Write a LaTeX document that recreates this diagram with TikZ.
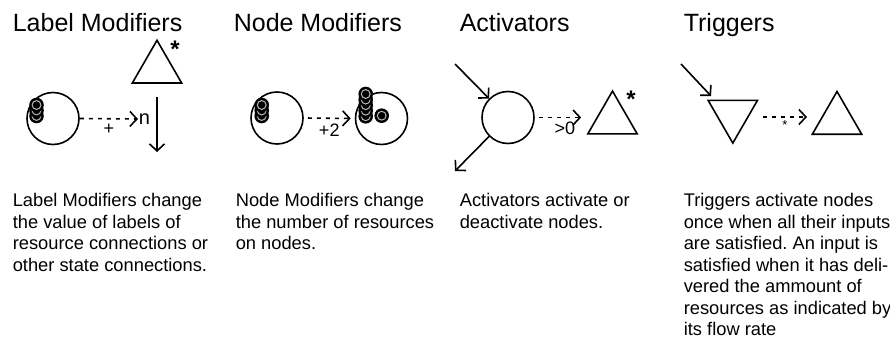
\documentclass[tikz,border=0pt]{standalone}
\usepackage{fontspec}
\setmainfont{Liberation Sans}
\usetikzlibrary{arrows.meta,shapes.geometric}

\begin{document}
\frenchspacing
\begin{tikzpicture}[x=1pt,y=-1pt,line width=1.6pt,
  >={Straight Barb[length=7pt,width=15pt]},
  title/.style={anchor=base west,inner sep=0pt,font=\fontsize{25}{30}\selectfont},
  blurb/.style={anchor=north west,inner sep=0pt,align=left,font=\fontsize{18.3}{21.5}\selectfont},
  tag/.style={inner sep=0pt,font=\fontsize{18}{20}\selectfont},
  pool/.style={circle,draw,minimum size=52pt,inner sep=0pt},
  gate/.style={regular polygon,regular polygon sides=3,draw,minimum size=57pt,inner sep=0pt},
  star/.style={inner sep=0pt,font=\fontsize{24}{24}\selectfont\bfseries},
  state/.style={->,dash pattern=on 4pt off 5pt}]
\useasboundingbox (0,0) rectangle (890,342);
\newcommand{\token}[2]{%
  \fill (#1,#2) circle (7.3);
  \draw[gray!55,line width=1pt] (#1,#2) circle (4.4);}

% headings
\node[title] (h1) at (12,32) {Label Modifiers};
\node[title] (h2) at (233,32) {Node Modifiers};
\node[title] (h3) at (459,32) {Activators};
\node[title] (h4) at (683,32) {Triggers};

% label modifiers
\node[pool] (lpool) at (53,118.5) {};
\foreach \y in {116,110.5,105} {\token{36.5}{\y}}
\node[tag,font=\fontsize{20}{20}\selectfont,anchor=west] (lval) at (138,119) {n};
\draw[state] (lpool.east) -- (lval.west) node[tag,midway,below=5pt] {+};
\node[gate] (lgate) at (157,68.8) {};
\node[star] (lstar) at (175,49) {*};
\coordinate (ltop) at (157,97);
\coordinate (lbot) at (157,152);
\draw[->] (ltop) -- (lbot);

% node modifiers
\node[pool] (npoolA) at (277,118) {};
\foreach \y in {116,110.5,105} {\token{261.7}{\y}}
\node[pool] (npoolB) at (381.5,118.5) {};
\foreach \y in {116.3,110.7,105.2,99.6,94} {\token{365.7}{\y}}
\token{381.7}{115.7}
\draw[state,shorten <=4pt,shorten >=4pt] (npoolA.east) -- (npoolB.west)
  node[tag,midway,below=5pt] {+2};

% activators
\node[pool] (apool) at (508,117.5) {};
\coordinate (ain) at (455,64);
\coordinate (aout) at (455,171);
\draw[->] (ain) -- (apool.135);
\draw[->] (apool.225) -- (aout);
\node[gate] (agate) at (612.5,119.6) {};
\node[star] (astar) at (631,99) {*};
\draw[state,shorten <=4pt,shorten >=14pt] (apool.east) -- (agate.west |- apool.east)
  node[tag,midway,below=4pt] {>0};

% triggers
\node[gate,shape border rotate=180] (tgateA) at (732.8,114.6) {};
\coordinate (tin) at (681,64);
\coordinate (tinend) at (711,96);
\draw[->] (tin) -- (tinend);
\node[gate] (tgateB) at (837,120) {};
\coordinate (tsrc) at (763,117);
\coordinate (tdst) at (807,117);
\draw[state] (tsrc) -- (tdst) node[tag,midway,below=3pt,font=\fontsize{13}{13}\selectfont] {*};

% descriptions
\node[blurb] (d1) at (12,192.7) {Label Modifiers change\\the value of labels of\\resource connections or\\other state connections.};
\node[blurb] (d2) at (235,192.7) {Node Modifiers change\\the number of resources\\on nodes.};
\node[blurb] (d3) at (459,192.7) {Activators activate or\\deactivate nodes.};
\node[blurb] (d4) at (683,192.7) {Triggers activate nodes\\once when all their inputs\\are satisfied. An input is\\satisfied when it has deli-\\vered the ammount of\\resources as indicated by\\its flow rate};
\end{tikzpicture}
\end{document}
